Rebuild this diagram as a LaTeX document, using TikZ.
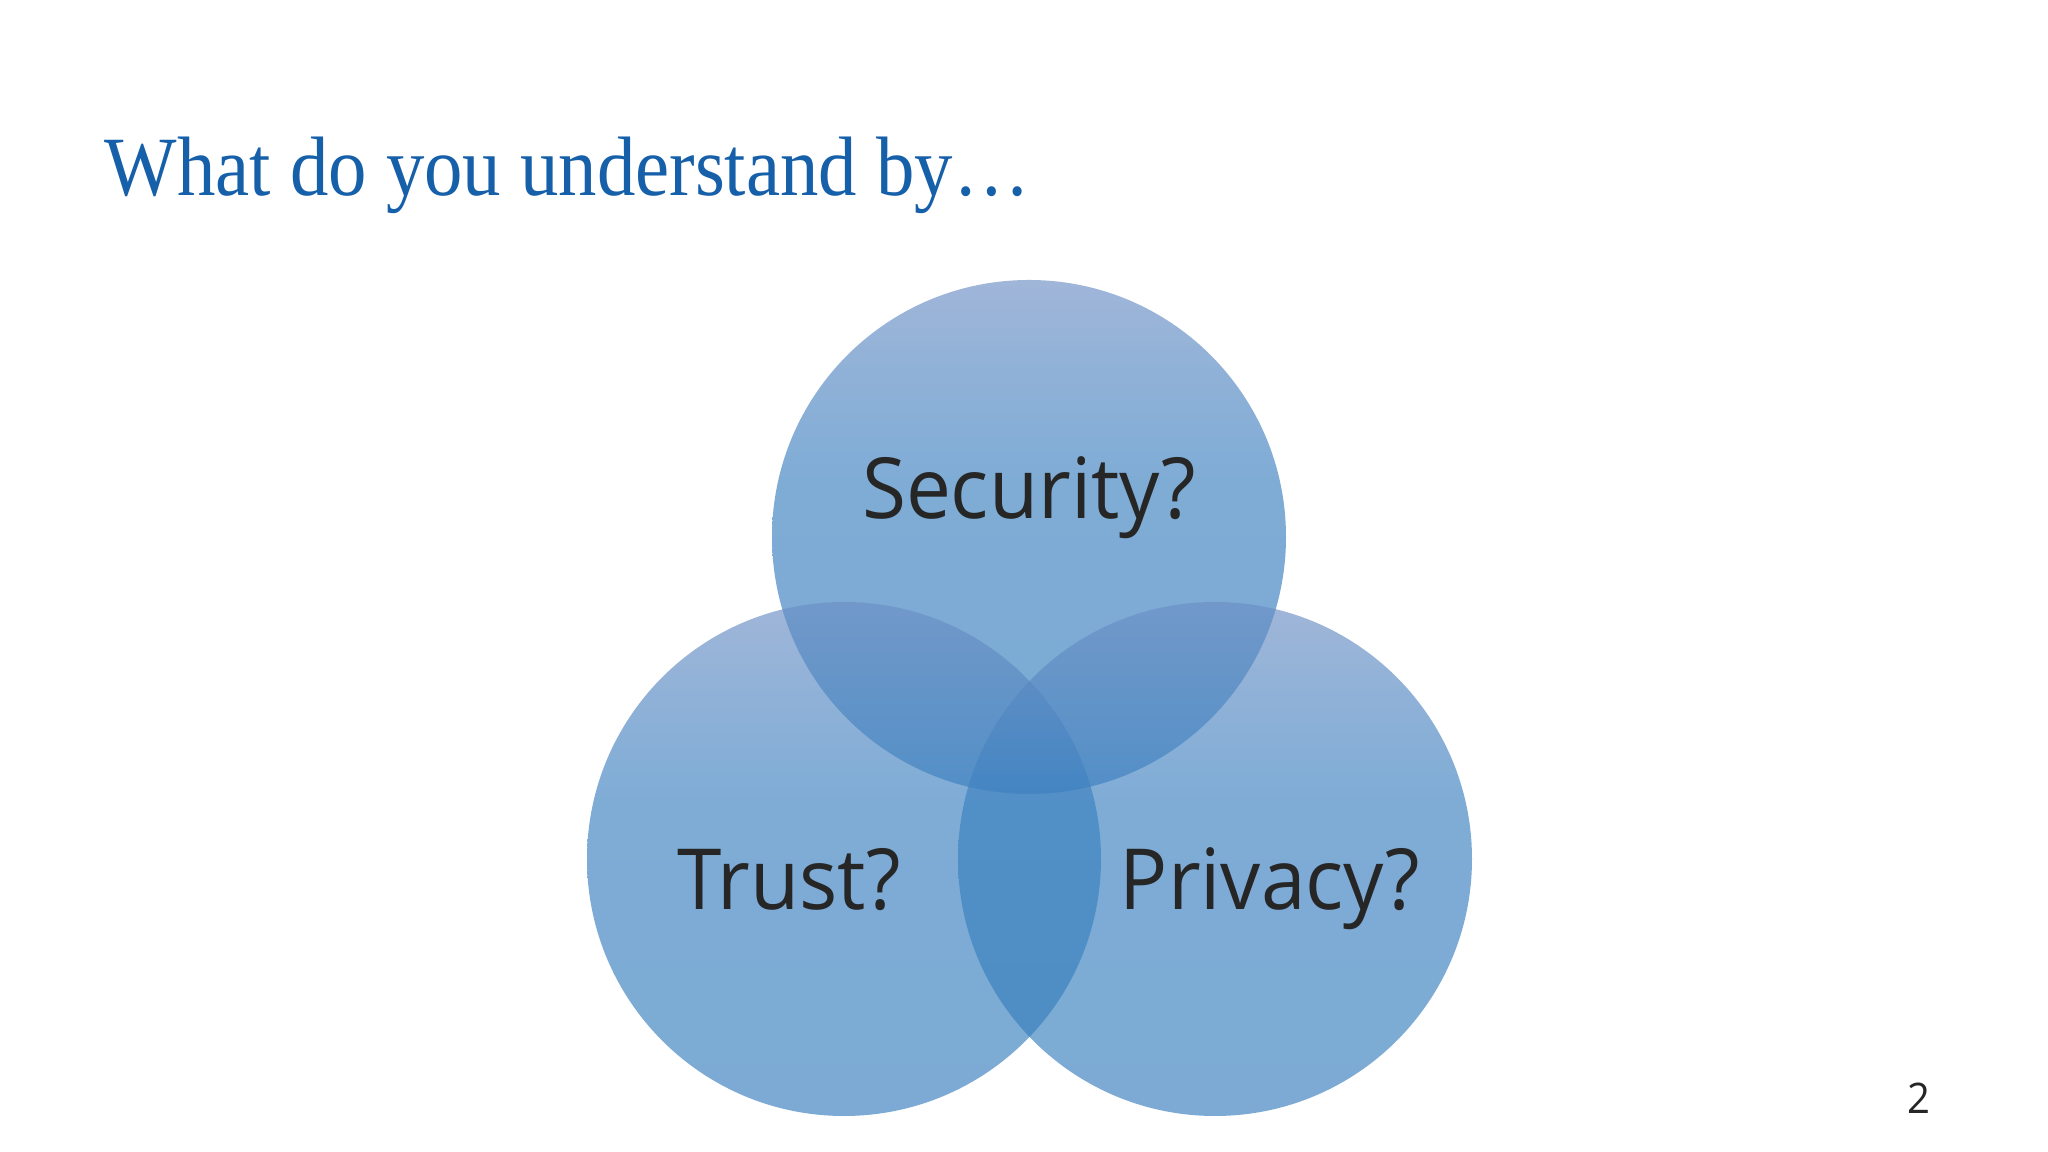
\documentclass[tikz,border=0pt]{standalone}
\usepackage{fontspec}
\setmainfont{Liberation Serif}
\newfontfamily\labelfont{Open Sans}
\definecolor{titleblue}{RGB}{22,96,170}
\definecolor{labelgray}{RGB}{38,38,38}
\definecolor{venntop}{RGB}{109,143,197}
\definecolor{vennmid}{RGB}{57,128,192}
\definecolor{vennbot}{RGB}{54,125,189}
\pgfdeclareverticalshading{vennball}{100bp}{color(0bp)=(vennbot); color(25bp)=(vennbot);
  color(55bp)=(vennmid); color(75bp)=(venntop); color(100bp)=(venntop)}
\tikzset{
  ball/.style={
    shape = circle,
    inner sep = 0,
    minimum size = 5.14cm,
    shade,
    shading = vennball,
    opacity = 0.65
  },
  question/.style={
    font = \labelfont\fontsize{24}{28}\selectfont,
    text = labelgray,
    anchor = base,
    inner sep = 0,
    xscale = 0.95,
    transform shape
  },
  heading/.style={
    font = \fontsize{24}{28}\selectfont,
    text = titleblue,
    anchor = base west,
    inner sep = 0,
    xscale = 0.91,
    transform shape
  }
}
\begin{document}
\begin{tikzpicture}
    \fill[white] (0,0) rectangle (20.48,11.52);
    \useasboundingbox (0,0) rectangle (20.48,11.52);
    \node[heading] (title) at (1.04,9.56) {What do you understand by\ldots};
    \foreach \x/\y/\name in {10.29/6.15/security, 8.44/2.93/trust, 12.15/2.93/privacy}{
            \node[ball] (\name) at (\x,\y) {};
        }
    \node[question] (securitytext) at (10.29,6.33) {Security?};
    \node[question] (trusttext) at (7.89,2.42) {Trust?};
    \node[question] (privacytext) at (12.70,2.42) {Privacy?};
    \node[question, font=\labelfont\fontsize{12}{14}\selectfont] (pagenum) at (19.19,0.38) {2};
\end{tikzpicture}
\end{document}
